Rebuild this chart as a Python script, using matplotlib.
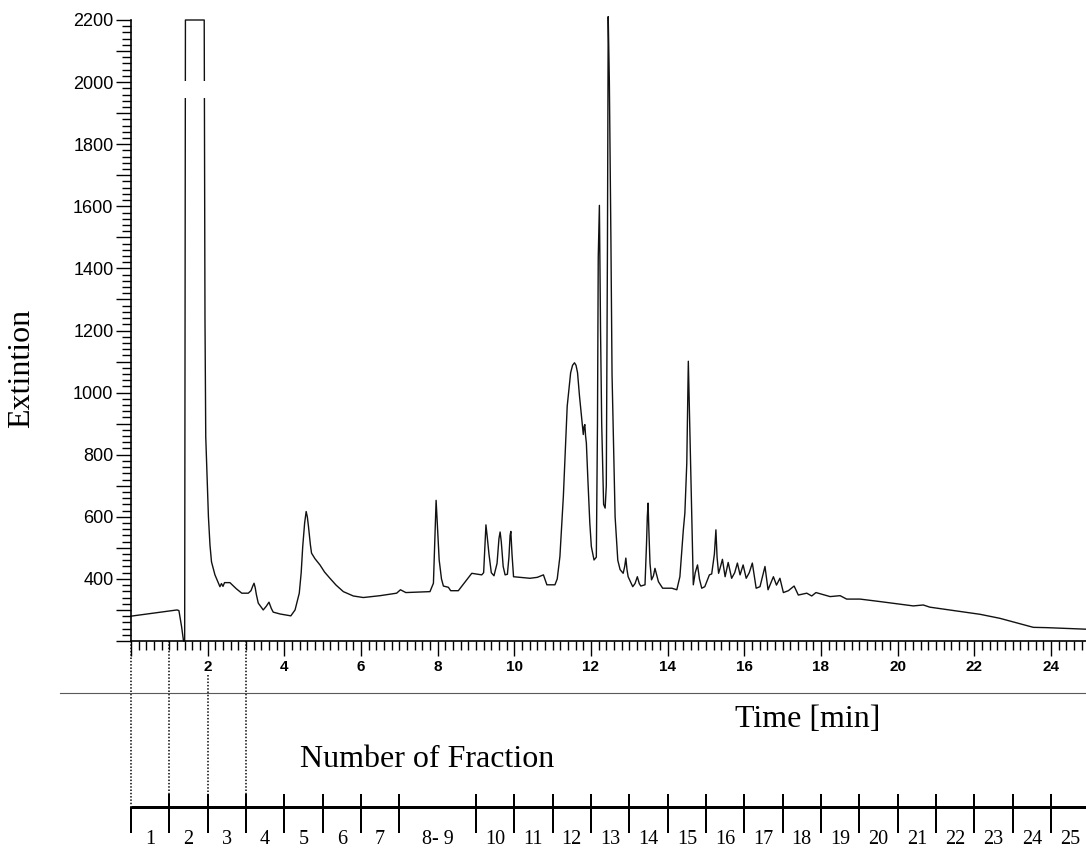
import numpy as np
import matplotlib
matplotlib.use("Agg")
import matplotlib.pyplot as plt
from matplotlib.lines import Line2D
from matplotlib.ticker import MultipleLocator, FuncFormatter

# ---------------- data ----------------
time_min = [0.00, 0.60, 1.20, 1.25, 1.32, 1.37, 1.40, 1.42, 1.91, 1.93, 1.95, 2.02, 2.06, 2.10,
            2.19, 2.32, 2.36, 2.40, 2.44, 2.58, 2.75, 2.89, 3.06, 3.13, 3.18, 3.21, 3.24, 3.27,
            3.32, 3.45, 3.53, 3.60, 3.66, 3.71, 3.89, 4.17, 4.28, 4.39, 4.44, 4.48, 4.53, 4.57,
            4.60, 4.63, 4.68, 4.71, 4.80, 4.93, 5.05, 5.19, 5.35, 5.54, 5.80, 6.06, 6.50, 6.93,
            7.03, 7.17, 7.80, 7.89, 7.92, 7.96, 7.99, 8.04, 8.10, 8.15, 8.28, 8.34, 8.54, 8.89,
            9.15, 9.20, 9.23, 9.26, 9.29, 9.34, 9.40, 9.47, 9.55, 9.60, 9.63, 9.66, 9.71, 9.76,
            9.82, 9.86, 9.89, 9.91, 9.94, 9.98, 10.41, 10.60, 10.76, 10.85, 11.06, 11.12, 11.19,
            11.28, 11.38, 11.47, 11.52, 11.57, 11.61, 11.65, 11.70, 11.76, 11.80, 11.82, 11.84,
            11.86, 11.88, 11.92, 11.97, 12.01, 12.08, 12.14, 12.17, 12.19, 12.22, 12.25, 12.28,
            12.33, 12.37, 12.40, 12.43, 12.45, 12.48, 12.52, 12.55, 12.58, 12.63, 12.70, 12.76,
            12.84, 12.88, 12.91, 12.94, 12.97, 13.09, 13.15, 13.21, 13.26, 13.30, 13.41, 13.45,
            13.47, 13.49, 13.51, 13.54, 13.58, 13.63, 13.67, 13.71, 13.76, 13.87, 14.11, 14.24,
            14.32, 14.41, 14.45, 14.50, 14.54, 14.58, 14.64, 14.67, 14.72, 14.78, 14.83, 14.89,
            14.97, 15.09, 15.15, 15.22, 15.26, 15.29, 15.33, 15.37, 15.43, 15.50, 15.58, 15.67,
            15.75, 15.82, 15.89, 15.97, 16.05, 16.13, 16.21, 16.31, 16.41, 16.54, 16.62, 16.76,
            16.84, 16.93, 17.02, 17.15, 17.30, 17.41, 17.63, 17.76, 17.87, 18.24, 18.50, 18.67,
            19.02, 19.54, 20.41, 20.67, 20.84, 22.15, 22.67, 23.54, 23.89, 24.92]
extinction = [280, 290, 300, 298, 246, 200, 200, 2200, 2200, 1240, 858, 600, 510, 455,
              413, 375, 385, 376, 388, 388, 368, 354, 354, 362, 378, 386, 372, 350,
              322, 300, 312, 325, 305, 293, 287, 281, 300, 354, 420, 504, 580, 617,
              600, 569, 510, 483, 465, 445, 422, 402, 380, 359, 345, 340, 346, 354,
              365, 356, 359, 386, 500, 653, 580, 461, 400, 377, 373, 362, 362, 418,
              413, 420, 500, 574, 540, 479, 420, 410, 450, 530, 551, 520, 440, 413,
              415, 470, 540, 553, 480, 407, 402, 405, 413, 381, 381, 400, 472,
              666, 956, 1064, 1088, 1096, 1088, 1064, 990, 913, 865, 890, 897,
              860, 838, 719, 580, 504, 461, 470, 900, 1435, 1603, 1200, 900,
              640, 628, 700, 1461, 2211, 2000, 1500, 1058, 881, 600, 460, 430,
              418, 440, 467, 430, 407, 375, 385, 407, 385, 377, 381, 515,
              600, 644, 560, 451, 397, 410, 434, 415, 391, 370, 370, 365,
              407, 558, 612, 773, 1101, 881, 558, 381, 420, 445, 400, 370,
              375, 413, 416, 480, 558, 470, 418, 435, 463, 407, 453, 402,
              420, 451, 413, 445, 402, 420, 451, 370, 375, 440, 365, 407,
              380, 402, 356, 362, 377, 348, 354, 345, 356, 343, 346, 335,
              335, 327, 313, 316, 309, 286, 273, 244, 243, 238]

# fraction boundaries (min) and labels
fraction_edges = [0, 1, 2, 3, 4, 5, 6, 7, 9, 10, 11, 12, 13, 14, 15, 16, 17, 18, 19, 20,
                  21, 22, 23, 24, 25]
fraction_labels = ["1", "2", "3", "4", "5", "6", "7", "8- 9", "10", "11", "12", "13", "14",
                   "15", "16", "17", "18", "19", "20", "21", "22", "23", "24", "25"]
dotted_edges = [0, 1, 2, 3]

# ---------------- layout ----------------
W, H = 1086, 849
SERIF = ["Liberation Serif", "DejaVu Serif"]
SANS = ["Liberation Sans", "DejaVu Sans"]
PX = 72 / 100.0  # points per pixel

fig = plt.figure(figsize=(W / 100, H / 100), dpi=100)
fig.patch.set_facecolor("white")

x_left, y_bottom, y_top = 131, 641, 20
px_per_min = 38.33
xmax = (W - x_left) / px_per_min

ax = fig.add_axes([x_left / W, (H - y_bottom) / H, (W - x_left) / W, (y_bottom - y_top) / H])
ax.plot(time_min, extinction, color="#111111", lw=1.0, clip_on=False, zorder=2,
        solid_joinstyle="round")
# white gap across the saturated peak (scan break)
ax.fill_between([1.36, 1.98], 1948, 2003, color="white", zorder=3, lw=0)

ax.set_xlim(0, xmax)
ax.set_ylim(200, 2200)
for s in ("top", "right"):
    ax.spines[s].set_visible(False)
for s in ("left", "bottom"):
    ax.spines[s].set_linewidth(1.2)
    ax.spines[s].set_color("black")

ax.yaxis.set_major_locator(MultipleLocator(100))
ax.yaxis.set_minor_locator(MultipleLocator(20))
ax.yaxis.set_major_formatter(FuncFormatter(
    lambda v, p: f"{int(round(v))}" if (round(v) % 200 == 0 and v >= 399) else ""))
ax.xaxis.set_major_locator(MultipleLocator(2))
ax.xaxis.set_minor_locator(MultipleLocator(0.2))
ax.xaxis.set_major_formatter(FuncFormatter(lambda v, p: f"{int(round(v))}" if v > 0.5 else ""))

ax.tick_params(axis="y", which="major", direction="out", length=15 * PX, width=1.0,
               pad=2.5 * PX, labelsize=13)
ax.tick_params(axis="y", which="minor", direction="out", length=9 * PX, width=1.0)
ax.tick_params(axis="x", which="major", direction="out", length=15 * PX, width=1.0,
               pad=4 * PX, labelsize=11)
ax.tick_params(axis="x", which="minor", direction="out", length=9 * PX, width=1.0)
for lab in ax.get_yticklabels():
    lab.set_family(SANS)
for lab in ax.get_xticklabels():
    lab.set_family(SANS)
    lab.set_fontweight("bold")

# ---------------- fraction axis (pixel rows as y) ----------------
ax2 = fig.add_axes([x_left / W, 0, (W - x_left) / W, (H - y_bottom) / H])
ax2.set_xlim(0, xmax)
ax2.set_ylim(H, y_bottom)
ax2.axis("off")

frac_y, tick_top, tick_bot = 807, 794, 833
ax2.plot([0, xmax], [frac_y, frac_y], color="black", lw=3 * PX, clip_on=False,
         solid_capstyle="butt")
edges = fraction_edges[:-1]
ax2.vlines(edges[:1], frac_y, tick_bot, color="black", lw=2 * PX, clip_on=False)
ax2.vlines(edges[1:], tick_top, tick_bot, color="black", lw=2 * PX, clip_on=False)
for e in dotted_edges:
    start = 675 if e == 2 else y_bottom
    ax2.plot([e, e], [start, tick_top if e else frac_y], color="black", lw=1.5 * PX,
             ls=(0, (1, 1.2)), clip_on=False)
for a, b, lab in zip(fraction_edges[:-1], fraction_edges[1:], fraction_labels):
    ax2.text((a + b) / 2, 844.5, lab, ha="center", va="baseline", fontsize=14.5,
             family=SERIF, clip_on=False)

# gray separator
fig.add_artist(Line2D([60 / W, 1.0], [1 - 693 / H, 1 - 693 / H], transform=fig.transFigure,
                      color="0.35", lw=0.8))

# texts
fig.text(22 / W, 1 - 368 / H, "Extintion", rotation=90, ha="center", va="center",
         fontsize=23, family=SERIF)
fig.text(735 / W, 1 - 727 / H, "Time [min]", ha="left", va="baseline",
         fontsize=23, family=SERIF)
fig.text(300 / W, 1 - 767 / H, "Number of Fraction", ha="left", va="baseline",
         fontsize=23, family=SERIF)

fig.savefig("out.png", dpi=100, facecolor="white")
